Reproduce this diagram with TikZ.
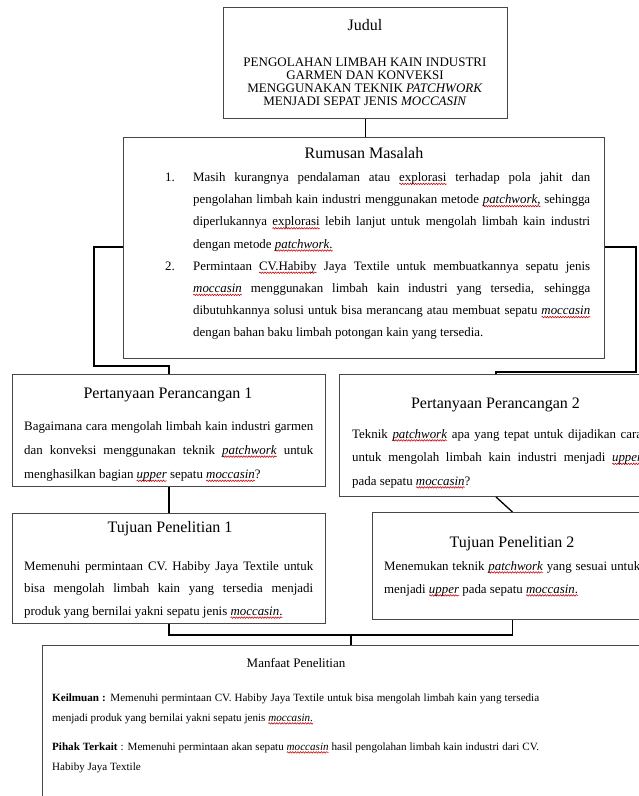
\documentclass[tikz,border=0pt]{standalone}
\usepackage{fontspec}
\setmainfont{Liberation Serif}
\usetikzlibrary{decorations.pathmorphing}
\newlength\sqlen
\tikzset{sqline/.style={draw=red!80!black, line width=0.55pt, decorate,
  decoration={snake, amplitude=0.75pt, segment length=2.6pt}}}
\newcommand\sq[1]{\settowidth\sqlen{#1}\rlap{\tikz[overlay,baseline=0pt]\draw[sqline] (0pt,-2.4pt) -- (\sqlen,-2.4pt);}#1}
\newcommand\jl[1]{\makebox[\linewidth][s]{#1}}
\begin{document}
\begin{tikzpicture}[x=1pt,y=-1pt,
  box/.style={draw=black!72, line width=0.9pt, inner sep=0pt, anchor=north west},
  conn/.style={draw=black, line width=1.3pt},
  ttl/.style={inner sep=0pt, anchor=base, font=\fontsize{16}{19}\selectfont},
  sttl/.style={inner sep=0pt, anchor=base, font=\fontsize{13}{15}\selectfont},
  body/.style={inner sep=0pt, anchor=base west, font=\fontsize{12.9}{22}\selectfont},
  small/.style={inner sep=0pt, anchor=base west, font=\fontsize{11.1}{20}\selectfont}]
\path[use as bounding box, fill=white] (0,0) rectangle (639,796);
\clip (0,0) rectangle (639,796);
% boxes
\node[box, minimum width=284pt, minimum height=111pt] (judul) at (223,7) {};
\node[box, minimum width=481pt, minimum height=221pt] (rm) at (123,137) {};
\node[box, minimum width=313pt, minimum height=112pt] (pp1) at (12,374) {};
\node[box, minimum width=313pt, minimum height=122pt] (pp2) at (339,374) {};
\node[box, minimum width=313pt, minimum height=110pt] (tp1) at (12,513) {};
\node[box, minimum width=280pt, minimum height=107pt] (tp2) at (372,512) {};
\node[box, minimum width=700pt, minimum height=200pt] (mf) at (42,645) {};
% Judul
\node[ttl] (judulT) at (365,30) {Judul};
\node[sttl] (judulB) at (365,66) {\parbox[t]{300pt}{\centering\baselineskip=13pt
 PENGOLAHAN LIMBAH KAIN INDUSTRI\\
 GARMEN DAN KONVEKSI\\
 MENGGUNAKAN TEKNIK \textit{PATCHWORK}\\
 MENJADI SEPAT JENIS \textit{MOCCASIN}}};
% Rumusan
\node[ttl] (rmT) at (364,158) {Rumusan Masalah};
\node[body] (rmN1) at (165,181.5) {1.};
\node[body] (rmN2) at (165,270.3) {2.};
\node[body] (rmP1) at (193,181.5) {\parbox[t]{397pt}{\baselineskip=22.2pt
 \jl{Masih kurangnya pendalaman atau \sq{explorasi} terhadap pola jahit dan}\\
 \jl{pengolahan limbah kain industri menggunakan metode \sq{\textit{patchwork},} sehingga}\\
 \jl{diperlukannya \sq{explorasi} lebih lanjut untuk mengolah limbah kain industri}\\
 dengan metode \sq{\textit{patchwork}.}}};
\node[body] (rmP2) at (193,270.3) {\parbox[t]{397pt}{\baselineskip=22.2pt
 \jl{Permintaan \sq{CV.Habiby} Jaya Textile untuk membuatkannya sepatu jenis}\\
 \jl{\sq{\textit{moccasin}} menggunakan limbah kain industri yang tersedia, sehingga}\\
 \jl{dibutuhkannya solusi untuk bisa merancang atau membuat sepatu \sq{\textit{moccasin}}}\\
 dengan bahan baku limbah potongan kain yang tersedia.}};
% PP1
\node[ttl] (pp1T) at (168,398) {Pertanyaan Perancangan 1};
\node[body] (pp1B) at (24,430) {\parbox[t]{289pt}{\baselineskip=24.2pt
 \jl{Bagaimana cara mengolah limbah kain industri garmen}\\
 \jl{dan konveksi menggunakan teknik \sq{\textit{patchwork}} untuk}\\
 menghasilkan bagian \sq{\textit{upper}} sepatu \sq{\textit{moccasin}}?}};
% PP2
\node[ttl] (pp2T) at (495.5,408) {Pertanyaan Perancangan 2};
\node[body] (pp2B) at (352,438) {\parbox[t]{290pt}{\baselineskip=23.5pt
 \jl{Teknik \sq{\textit{patchwork}} apa yang tepat untuk dijadikan cara}\\
 \jl{untuk mengolah limbah kain industri menjadi \sq{\textit{upper}}}\\
 pada sepatu \sq{\textit{moccasin}}?}};
% TP1
\node[ttl] (tp1T) at (170,532) {Tujuan Penelitian 1};
\node[body] (tp1B) at (24,570) {\parbox[t]{289pt}{\baselineskip=22.6pt
 \jl{Memenuhi permintaan CV. Habiby Jaya Textile untuk}\\
 \jl{bisa mengolah limbah kain yang tersedia menjadi}\\
 produk yang bernilai yakni sepatu jenis \sq{\textit{moccasin}.}}};
% TP2
\node[ttl] (tp2T) at (512,547) {Tujuan Penelitian 2};
\node[body] (tp2B) at (384,570) {\parbox[t]{256pt}{\baselineskip=23pt
 \jl{Menemukan teknik \sq{\textit{patchwork}} yang sesuai untuk}\\
 menjadi \sq{\textit{upper}} pada sepatu \sq{\textit{moccasin}.}}};
% Manfaat
\node[sttl] (mfT) at (296,667) {Manfaat Penelitian};
\node[small] (mfB) at (52,701) {\parbox[t]{487pt}{\baselineskip=20pt
 \jl{\textbf{Keilmuan :} Memenuhi permintaan CV. Habiby Jaya Textile untuk bisa mengolah limbah kain yang tersedia}\\
 menjadi produk yang bernilai yakni sepatu jenis \sq{\textit{moccasin}.}\\[9pt]
 \jl{\textbf{Pihak Terkait} : Memenuhi permintaan akan sepatu \sq{\textit{moccasin}} hasil pengolahan limbah kain industri dari CV.}\\
 Habiby Jaya Textile}};
% connectors
\coordinate (lA) at (94,247);
\coordinate (lB) at (94,366);
\coordinate (rA) at (636,247);
\coordinate (rB) at (636,372);
\coordinate (bm) at (351,635);
\draw[conn] (judul.south) -- (judul.south |- rm.north);
\draw[conn] (rm.west |- lA) -- (lA) -- (lB) -- (lB -| pp1.north) -- (pp1.north);
\draw[conn] (rm.east |- rA) -- (rA) -- (rB) -- (rB -| pp2.north) -- (pp2.north);
\draw[conn] (pp1.south) -- (tp1.north);
\draw[conn] (pp2.south) -- (tp2.north);
\draw[conn] (tp1.south) -- (tp1.south |- bm) -- (tp2.south |- bm) -- (tp2.south);
\draw[conn] (bm) -- (bm |- mf.north);
\end{tikzpicture}
\end{document}
